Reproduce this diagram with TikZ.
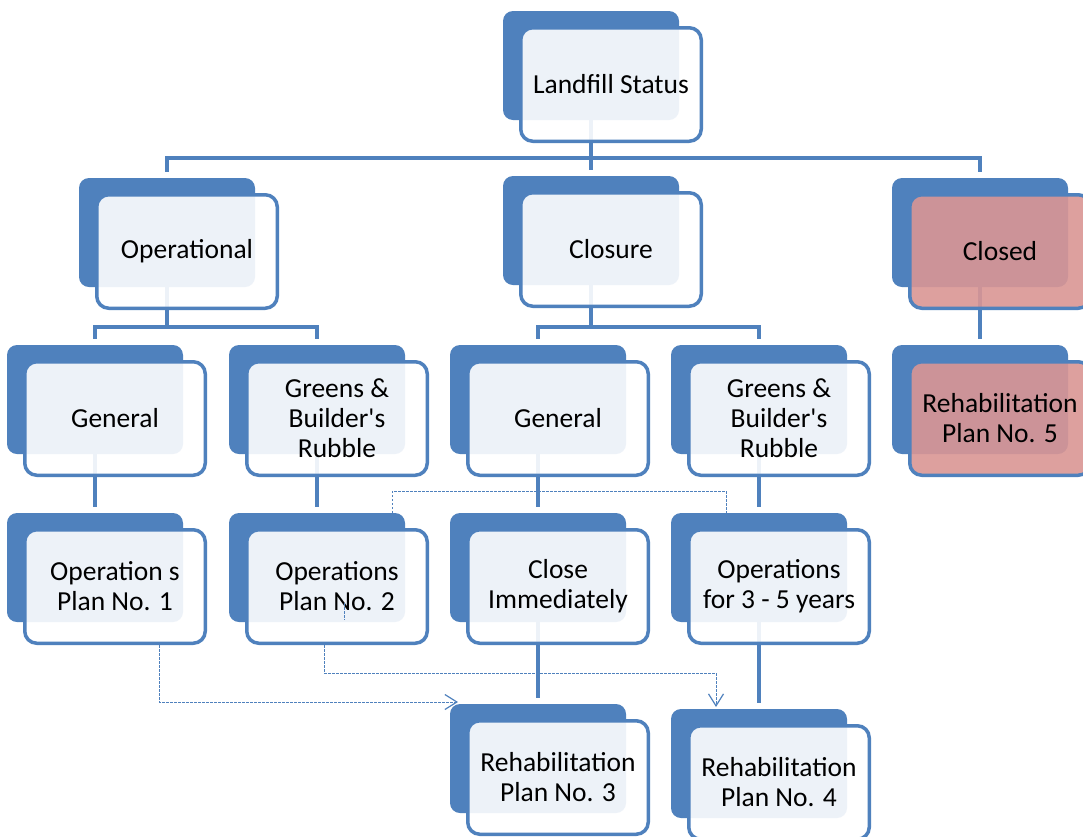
\documentclass[tikz,border=0pt]{standalone}
\usepackage{fontspec}
\setmainfont{Carlito}[Ligatures=TeXOff]
\usetikzlibrary{arrows.meta,backgrounds}
\pgfdeclarelayer{paper}
\pgfsetlayers{paper,background,main}
\definecolor{accent}{HTML}{4F81BD}
\definecolor{pinkfill}{HTML}{DA9694}
\tikzset{
  backbox/.style={rectangle, rounded corners=10pt, fill=accent, draw=none,
    minimum width=176pt, minimum height=109pt, inner sep=0pt, outer sep=0pt},
  frontbox/.style={rectangle, rounded corners=12pt, draw=accent, line width=3.5pt,
    fill=white, fill opacity=0.9, text opacity=1, minimum width=180.5pt,
    minimum height=113.5pt, inner sep=0pt, align=center,
    font=\fontsize{27.5}{30}\selectfont, text=black},
  pinkbox/.style={frontbox, fill=pinkfill},
  conn/.style={draw=accent, line width=4.5pt},
  dconn/.style={draw=accent, line width=1pt, dash pattern=on 2.5pt off 1.5pt},
  tip/.style={-{Straight Barb[length=12pt,width=15pt,line width=1.2pt]}}
}
\newcommand\mkbox[5][frontbox]{%
  \node[backbox] (#2B) at (#3+88,#4+54.5) {};
  \node[#1] (#2) at (#3+108,#4+73.5) {#5};
}
\begin{document}
\begin{tikzpicture}[x=1pt,y=-1pt]
\useasboundingbox (0,0) rectangle (1083,836);
\begin{pgfonlayer}{paper}
\fill[white] (0,0) rectangle (1083,836);
\end{pgfonlayer}

\mkbox{land}{503}{11}{Landfill Status}
\mkbox{op}{79}{178}{Operational}
\mkbox{cl}{503}{176}{Closure}
\mkbox[pinkbox]{cld}{892}{178}{Closed}
\mkbox{genL}{7}{345}{General}
\mkbox{grL}{229}{345}{Greens \&\\Builder's\\Rubble}
\mkbox{genM}{450}{345}{General}
\mkbox{grM}{671}{345}{Greens \&\\Builder's\\Rubble}
\mkbox[pinkbox]{r5}{892}{345}{Rehabilitation\\Plan No. 5}
\mkbox{ops1}{7}{513}{Operation s\\Plan No. 1}
\mkbox{ops2}{229}{513}{Operations\\Plan No. 2}
\mkbox{ci}{450}{513}{Close\\Immediately}
\mkbox{o35}{671}{513}{Operations\\for 3 - 5 years}
\mkbox{r3}{450}{704}{Rehabilitation\\Plan No. 3}
\mkbox{r4}{671}{709}{Rehabilitation\\Plan No. 4}

\begin{pgfonlayer}{background}
  \draw[conn] (landB.south) -- ++(0,38) -| ([yshift=6pt]opB.north);
  \draw[conn] (landB.south) -- ++(0,38) -| ([yshift=6pt]clB.north);
  \draw[conn] (landB.south) -- ++(0,38) -| ([yshift=6pt]cldB.north);
  \draw[conn] (opB.south) -- ++(0,40) -| ([yshift=6pt]genLB.north);
  \draw[conn] (opB.south) -- ++(0,40) -| ([yshift=6pt]grLB.north);
  \draw[conn] (clB.south) -- ++(0,42) -| ([yshift=6pt]genMB.north);
  \draw[conn] (clB.south) -- ++(0,42) -| ([yshift=6pt]grMB.north);
  \draw[conn] (cldB.south) -- ([yshift=6pt]r5B.north);
  \draw[conn] (genLB.south) -- ([yshift=6pt]ops1B.north);
  \draw[conn] (grLB.south) -- ([yshift=6pt]ops2B.north);
  \draw[conn] (genMB.south) -- ([yshift=6pt]ciB.north);
  \draw[conn] (grMB.south) -- ([yshift=6pt]o35B.north);
  \draw[conn] (ciB.south) -- ([yshift=6pt]r3B.north);
  \draw[conn] (o35B.south) -- ([yshift=6pt]r4B.north);
  \draw[dconn, tip] ([xshift=44pt]ops1.south) |- ([xshift=8pt,yshift=2pt]r3B.north west);
  \draw[dconn, tip] ([xshift=-13pt]ops2.south) -- ++(0,28) -| ([xshift=45pt,yshift=2pt]r4B.north west);
  \draw[dconn] ([xshift=163pt]ops2B.north west) -- ++(0,-22) -| ([xshift=55pt]o35B.north west);
\end{pgfonlayer}

\coordinate (d1) at (344,603);
\coordinate (d2) at (344,620);
\draw[dconn] (d1) -- (d2);
\end{tikzpicture}
\end{document}
